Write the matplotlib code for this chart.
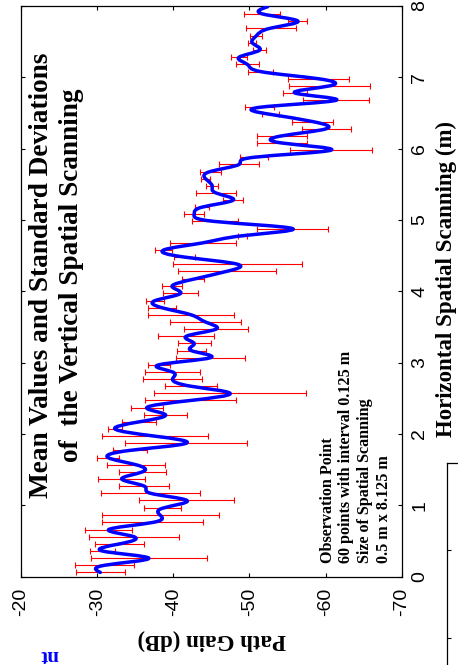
import numpy as np
import matplotlib
matplotlib.use("Agg")
import matplotlib.pyplot as plt
from matplotlib.path import Path
from matplotlib.patches import PathPatch
from matplotlib.ticker import FixedLocator, FixedFormatter

plt.rcParams["axes.unicode_minus"] = False

# Horizontal scanning position of each observation point (m)
position = [
    0.06, 0.16, 0.26, 0.36, 0.46, 0.56, 0.66, 0.76, 0.86, 0.96,
    1.07, 1.17, 1.27, 1.37, 1.47, 1.57, 1.67, 1.77, 1.87, 1.97,
    2.07, 2.17, 2.27, 2.37, 2.47, 2.57, 2.67, 2.77, 2.87, 2.97,
    3.07, 3.17, 3.27, 3.37, 3.47, 3.57, 3.67, 3.77, 3.87, 3.97,
    4.07, 4.17, 4.28, 4.38, 4.48, 4.58, 4.68, 4.78, 4.88, 4.98,
    5.08, 5.18, 5.28, 5.38, 5.48, 5.58, 5.68, 5.78, 5.88, 5.98,
    6.08, 6.18, 6.28, 6.38, 6.48, 6.58, 6.68, 6.78, 6.88, 6.98,
    7.08, 7.18, 7.28, 7.38, 7.48, 7.58, 7.69, 7.79, 7.89, 7.99,
]

# Mean path gain over the vertical scan (dB)
mean_gain = [
    -30.42, -30.97, -36.79, -30.70, -32.96, -34.84, -31.51, -37.27, -38.30, -38.59,
    -41.78, -36.99, -36.18, -33.22, -35.96, -35.08, -31.43, -34.27, -41.69, -37.60,
    -32.35, -35.48, -38.98, -36.51, -42.24, -47.47, -42.31, -39.90, -39.90, -38.10,
    -44.89, -42.35, -42.75, -41.69, -45.61, -44.23, -42.37, -38.52, -37.60, -40.95,
    -39.83, -42.64, -47.01, -48.44, -41.50, -38.74, -43.88, -49.12, -55.66, -45.44,
    -42.75, -43.77, -47.89, -45.59, -45.11, -44.23, -44.87, -48.66, -50.63, -60.74,
    -54.24, -54.28, -60.11, -58.29, -52.82, -51.35, -61.42, -55.99, -60.52, -59.08,
    -51.50, -49.75, -48.61, -51.33, -50.39, -50.89, -52.82, -56.36, -51.68, -52.40,
]

# Standard deviation over the vertical scan (dB)
std_gain = [
    3.24, 3.87, 7.60, 1.64, 3.24, 5.91, 3.11, 6.68, 7.71, 2.39,
    6.24, 6.52, 3.26, 3.06, 3.09, 3.83, 1.49, 2.23, 8.03, 7.01,
    0.88, 2.25, 2.78, 2.10, 5.95, 9.96, 3.39, 3.92, 3.61, 1.47,
    4.53, 1.90, 2.17, 3.66, 4.16, 4.62, 5.65, 1.80, 1.23, 2.25,
    1.27, 1.44, 6.44, 8.43, 1.36, 1.14, 4.31, 0.61, 4.71, 3.02,
    1.34, 0.92, 1.31, 2.61, 0.81, 0.59, 1.36, 2.65, 1.86, 5.41,
    3.28, 3.24, 3.24, 2.74, 1.12, 1.93, 4.33, 1.53, 5.32, 4.05,
    1.64, 1.55, 1.03, 0.81, 0.53, 0.81, 3.26, 1.25, 2.34, 0.00,
]

gain_ticks = [-20, -30, -40, -50, -60, -70]
gain_tick_labels = ["-20", "-30", "-40", "-50", "-60", "-70"]
pos_ticks = [0, 1, 2, 3, 4, 5, 6, 7, 8]
pos_tick_labels = ["0", "1", "2", "3", "4", "5", "6", "7", "8"]

title_lines = ["Mean Values and Standard Deviations", "of  the Vertical Spatial Scanning"]
note_lines = [
    "Observation Point",
    "60 points with interval 0.125 m",
    "Size of Spatial Scanning",
    "0.5 m x 8.125 m",
]

SERIF = "Liberation Serif"
SANS = "Liberation Sans"
W, H = 458, 665


def fx(px):
    return px / W


def fy(py):
    return 1 - py / H


def spline_path(xs, ys):
    """Natural cubic spline through (xs, ys) as Bezier segments (ys as function of xs)."""
    xs = np.asarray(xs, float)
    ys = np.asarray(ys, float)
    n = len(xs)
    h = np.diff(xs)
    d = np.diff(ys) / h
    A = np.zeros((n, n))
    b = np.zeros(n)
    A[0, 0], A[0, 1], b[0] = 2, 1, 3 * d[0]
    A[-1, -2], A[-1, -1], b[-1] = 1, 2, 3 * d[-1]
    for i in range(1, n - 1):
        A[i, i - 1] = h[i]
        A[i, i] = 2 * (h[i - 1] + h[i])
        A[i, i + 1] = h[i - 1]
        b[i] = 3 * (h[i] * d[i - 1] + h[i - 1] * d[i])
    m = np.linalg.solve(A, b)
    verts = [(ys[0], xs[0])]
    codes = [Path.MOVETO]
    for i in range(n - 1):
        verts += [
            (ys[i] + m[i] * h[i] / 3, xs[i] + h[i] / 3),
            (ys[i + 1] - m[i + 1] * h[i] / 3, xs[i + 1] - h[i] / 3),
            (ys[i + 1], xs[i + 1]),
        ]
        codes += [Path.CURVE4] * 3
    return Path(verts, codes)


fig = plt.figure(figsize=(W / 100, H / 100), dpi=100)

# main axes: gain runs left-to-right, scanning position runs upwards
ax = fig.add_axes([fx(21), fy(576.7), fx(401.7) - fx(21), fy(6) - fy(576.7)])
ax.set_xlim(-20, -70)
ax.set_ylim(0, 8)

pos = np.array(position)
mg = np.array(mean_gain)
sg = np.array(std_gain)
has_bar = sg > 0
ax.errorbar(mg[has_bar], pos[has_bar], xerr=sg[has_bar], fmt="none",
            ecolor="#ff0000", elinewidth=0.8, capsize=2.2, capthick=0.8, zorder=2)
ax.add_patch(PathPatch(spline_path(pos, mg), fill=False, edgecolor="#0000ff",
                       lw=2.5, capstyle="round", joinstyle="round", zorder=3))

ax.xaxis.set_major_locator(FixedLocator(gain_ticks))
ax.xaxis.set_major_formatter(FixedFormatter(gain_tick_labels))
ax.yaxis.set_major_locator(FixedLocator(pos_ticks))
ax.yaxis.set_major_formatter(FixedFormatter(pos_tick_labels))
ax.tick_params(which="both", direction="in", length=3, width=0.8,
               top=True, bottom=True, left=True, right=True,
               labelleft=False, labelright=True, labelbottom=True, labeltop=False,
               labelsize=14)
ax.tick_params(axis="x", pad=8, labelrotation=90)
ax.tick_params(axis="y", pad=7, labelrotation=90)
for lab in ax.get_xticklabels() + ax.get_yticklabels():
    lab.set_fontfamily(SANS)
for lab in ax.get_yticklabels():
    lab.set_verticalalignment("center")
for sp in ax.spines.values():
    sp.set_linewidth(0.9)

ax.set_xlabel("Path Gain (dB)", fontfamily=SERIF, fontweight="bold", fontsize=16.5,
              rotation=180)
ax.xaxis.set_label_coords(0.5, (576.7 - 629) / 570.7)
ax.xaxis.label.set_verticalalignment("top")

ax.yaxis.set_label_position("right")
ax.set_ylabel("Horizontal Spatial Scanning (m)", fontfamily=SERIF, fontweight="bold",
              fontsize=16.5, rotation=90)
ax.yaxis.label.set_rotation_mode("default")
ax.yaxis.label.set_horizontalalignment("left")
ax.yaxis.label.set_verticalalignment("center")
ax.yaxis.set_label_coords((436 - 21) / 380.7, (576.7 - 279) / 570.7)

# title, two lines written along the position axis
for base_x, line in zip([48, 78], title_lines):
    fig.text(fx(base_x), fy(275), line, rotation=90, rotation_mode="anchor",
             ha="center", va="baseline", fontfamily=SERIF, fontweight="bold",
             fontsize=19.6)

# measurement description
for base_x, line in zip([332, 350.5, 369, 387.5], note_lines):
    fig.text(fx(base_x), fy(563), line, rotation=90, rotation_mode="anchor",
             ha="left", va="baseline", fontfamily=SERIF, fontweight="bold",
             fontsize=11.6)

# neighbouring panel edge and caption fragment
ax2 = fig.add_axes([fx(446.7), fy(760), 0.2, fy(463) - fy(760)])
ax2.set_xlim(0, 1)
ax2.set_ylim(0, 297)
ax2.set_xticks([])
ax2.yaxis.set_major_locator(FixedLocator([210, 122]))
ax2.tick_params(axis="y", direction="in", length=3, width=0.8, labelleft=False)
for side in ["right", "bottom"]:
    ax2.spines[side].set_visible(False)
for sp in ax2.spines.values():
    sp.set_linewidth(0.9)

fig.text(fx(49), fy(655), "nt", rotation=180, ha="center", va="center",
         color="#0000ff", fontfamily=SERIF, fontweight="bold", fontsize=15)

fig.savefig("out.png", dpi=100)
